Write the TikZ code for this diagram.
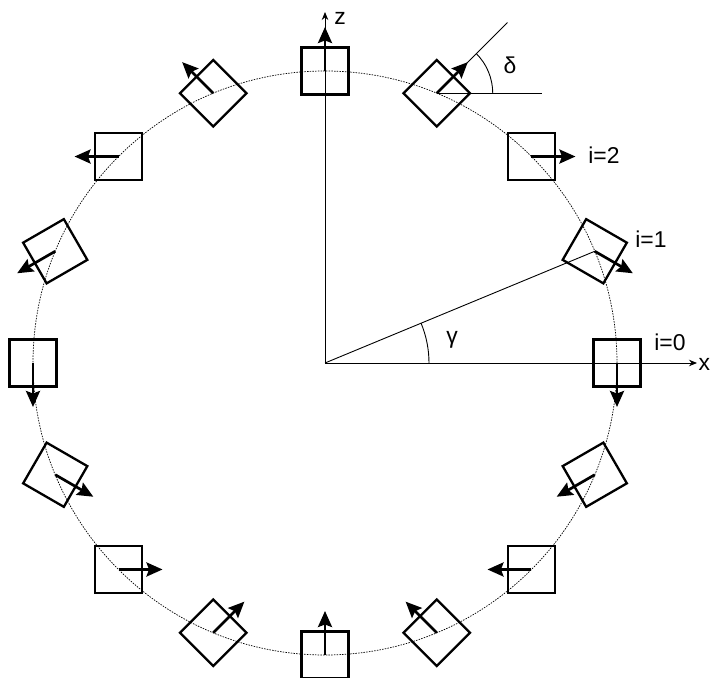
\documentclass[tikz,border=0pt]{standalone}
\usepackage{fontspec}
\setmainfont{Liberation Sans}
\usetikzlibrary{arrows.meta,calc}
\begin{document}
\begin{tikzpicture}[x=1bp,y=1bp,
  boxst/.style={draw,line width=2.3bp,minimum size=47bp,inner sep=0pt,outer sep=0pt},
  vec/.style={line width=2.7bp,-{Stealth[length=16bp,width=14bp,inset=2.5bp]}},
  axis/.style={line width=0.9bp,-{Stealth[length=8bp,width=6.5bp]}},
  thinl/.style={line width=0.9bp},
  lab/.style={font=\fontsize{23}{27}\selectfont,inner sep=0pt}]
\useasboundingbox (-325,-315) rectangle (386,363);
\coordinate (O) at (0,0);
\draw[line width=0.7bp, dash pattern=on 1.5bp off 1.2bp] (O) circle (292);
% axes
\coordinate (xend) at (372,0);
\coordinate (zend) at (0,351);
\draw[axis] (O) -- (xend);
\draw[axis] (O) -- (zend);
\node[lab,anchor=west] (xl) at (373.5,-1) {x};
\node[lab] (zl) at (15,345) {z};
% boxes
\foreach \k/\d in {0/270,1/330,2/0,3/45,4/90,5/135,6/180,7/210,8/270,9/330,10/0,11/45,12/90,13/135,14/180,15/210} {
  \node[boxst,rotate=\d] (b\k) at ({\k*22.5}:292) {};
  \coordinate (t\k) at ($(b\k.center)+(\d:44)$);
}
% gamma
\draw[thinl] (O) -- (b1.center);
\draw[thinl] (104,0) arc[start angle=0,end angle=22.5,radius=104];
\node[lab] (gl) at (127,23) {γ};
% delta
\coordinate (dh) at ($(b3.center)+(105,0)$);
\coordinate (dd) at ($(b3.center)+(45:100)$);
\draw[thinl] (b3.center) -- (dh);
\draw[thinl] (b3.center) -- (dd);
\draw[thinl] ($(b3.center)+(56,0)$) arc[start angle=0,end angle=45,radius=56];
\node[lab] (dl) at (185,298) {δ};
% arrows
\foreach \k in {0,...,15} {
  \draw[vec] (b\k.center) -- (t\k);
}
% labels
\node[lab] (i0) at (345,21) {i=0};
\node[lab] (i1) at (326,124) {i=1};
\node[lab] (i2) at (279,208) {i=2};
\end{tikzpicture}
\end{document}
